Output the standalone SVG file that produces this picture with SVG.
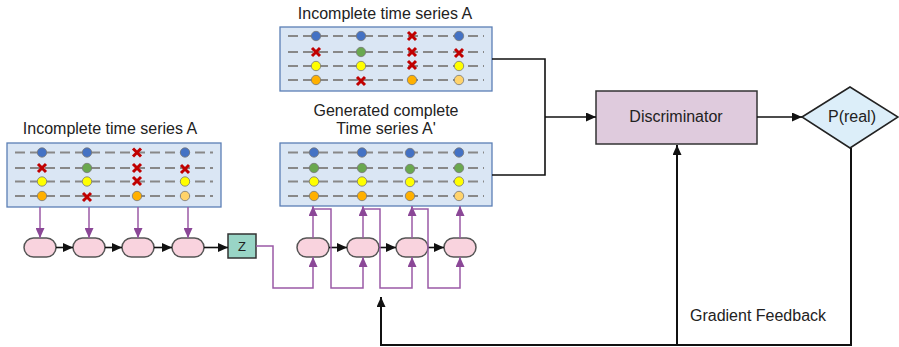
<svg xmlns="http://www.w3.org/2000/svg" xmlns:xlink="http://www.w3.org/1999/xlink" width="899" height="347" viewBox="0 0 899 347">
<style>
  .title { font-family: "Liberation Sans", Arial, sans-serif; font-size: 16px; fill: #222; text-anchor: middle; }
  .label { font-family: "Liberation Sans", Arial, sans-serif; font-size: 16px; fill: #222; text-anchor: middle; dominant-baseline: central; }
  .panel { fill: #dae6f4; stroke: #5b7fb5; stroke-width: 1.3; }
  .dash { stroke: #888; stroke-width: 2; stroke-dasharray: 10 5; }
  .dot { stroke: #777; stroke-width: 0.8; }
  .b { fill: #4472c4; } .g { fill: #6aa84f; } .y { fill: #ffff00; } .o { fill: #ffb000; } .lo { fill: #ffd36b; }
  .xmark { stroke: #c00000; stroke-width: 3; }
  .cell { fill: #f9d3de; stroke: #555; stroke-width: 1.5; }
  .blk { stroke: #111; stroke-width: 1.6; fill: none; }
  .pur { stroke: #9b5aa6; stroke-width: 1.5; fill: none; }
  .fb { stroke: #111; stroke-width: 2; fill: none; }
</style>
<defs>
  <marker id="ab" markerUnits="userSpaceOnUse" markerWidth="11" markerHeight="9" refX="10" refY="4.5" orient="auto">
    <path d="M0,0 L10,4.5 L0,9 z" fill="#111"/>
  </marker>
  <marker id="ap" markerUnits="userSpaceOnUse" markerWidth="11" markerHeight="9" refX="10" refY="4.5" orient="auto">
    <path d="M0,0 L10,4.5 L0,9 z" fill="#8b4797"/>
  </marker>
  <g id="x"><path class="xmark" d="M-4,-4 L4,4 M-4,4 L4,-4"/></g>
</defs>

<!-- Titles -->
<text class="title" x="110" y="134">Incomplete time series A</text>
<text class="title" x="385" y="19">Incomplete time series A</text>
<text class="title" x="386" y="116">Generated complete</text>
<text class="title" x="386" y="134">Time series A'</text>

<!-- Left panel -->
<g id="panel-left">
  <rect class="panel" x="7" y="143" width="214" height="64"/>
  <line class="dash" x1="15" y1="152.5" x2="213" y2="152.5"/>
  <line class="dash" x1="15" y1="168" x2="213" y2="168"/>
  <line class="dash" x1="15" y1="181.5" x2="213" y2="181.5"/>
  <line class="dash" x1="15" y1="196" x2="213" y2="196"/>
  <circle class="dot b" cx="42" cy="152.5" r="4.7"/>
  <circle class="dot b" cx="87" cy="152.5" r="4.7"/>
  <use xlink:href="#x" x="137" y="152.5"/>
  <circle class="dot b" cx="185" cy="152.5" r="4.7"/>
  <use xlink:href="#x" x="42" y="168"/>
  <circle class="dot g" cx="87" cy="168" r="4.7"/>
  <use xlink:href="#x" x="137" y="168"/>
  <use xlink:href="#x" x="185" y="169"/>
  <circle class="dot y" cx="42" cy="181.5" r="4.7"/>
  <circle class="dot y" cx="87" cy="181.5" r="4.7"/>
  <use xlink:href="#x" x="137" y="181"/>
  <circle class="dot y" cx="185" cy="181.5" r="4.7"/>
  <circle class="dot o" cx="42" cy="196" r="4.7"/>
  <use xlink:href="#x" x="87" y="197"/>
  <circle class="dot o" cx="137" cy="196" r="4.7"/>
  <circle class="dot lo" cx="185" cy="196" r="4.7"/>
</g>

<!-- Top panel -->
<g id="panel-top">
  <rect class="panel" x="280" y="27" width="212" height="64"/>
  <line class="dash" x1="288" y1="36" x2="484" y2="36"/>
  <line class="dash" x1="288" y1="52" x2="484" y2="52"/>
  <line class="dash" x1="288" y1="66" x2="484" y2="66"/>
  <line class="dash" x1="288" y1="80" x2="484" y2="80"/>
  <circle class="dot b" cx="316" cy="36" r="4.7"/>
  <circle class="dot b" cx="361" cy="36" r="4.7"/>
  <use xlink:href="#x" x="412" y="36"/>
  <circle class="dot b" cx="459" cy="36" r="4.7"/>
  <use xlink:href="#x" x="316" y="52"/>
  <circle class="dot g" cx="361" cy="52" r="4.7"/>
  <use xlink:href="#x" x="412" y="52"/>
  <use xlink:href="#x" x="459" y="53"/>
  <circle class="dot y" cx="316" cy="66" r="4.7"/>
  <circle class="dot y" cx="361" cy="66" r="4.7"/>
  <use xlink:href="#x" x="412" y="65"/>
  <circle class="dot y" cx="459" cy="66" r="4.7"/>
  <circle class="dot o" cx="316" cy="80" r="4.7"/>
  <use xlink:href="#x" x="361" y="81"/>
  <circle class="dot o" cx="412" cy="80" r="4.7"/>
  <circle class="dot lo" cx="459" cy="80" r="4.7"/>
</g>

<!-- Generated panel -->
<g id="panel-generated">
  <rect class="panel" x="280" y="143" width="212" height="63"/>
  <line class="dash" x1="288" y1="152.5" x2="484" y2="152.5"/>
  <line class="dash" x1="288" y1="168" x2="484" y2="168"/>
  <line class="dash" x1="288" y1="181.5" x2="484" y2="181.5"/>
  <line class="dash" x1="288" y1="196" x2="484" y2="196"/>
  <circle class="dot b" cx="314" cy="152.5" r="4.7"/>
  <circle class="dot b" cx="362" cy="152.5" r="4.7"/>
  <circle class="dot b" cx="410" cy="153" r="4.7"/>
  <circle class="dot b" cx="459" cy="152.5" r="4.7"/>
  <circle class="dot g" cx="314" cy="168" r="4.7"/>
  <circle class="dot g" cx="362" cy="168" r="4.7"/>
  <circle class="dot g" cx="410" cy="169" r="4.7"/>
  <circle class="dot g" cx="459" cy="168" r="4.7"/>
  <circle class="dot y" cx="314" cy="181.5" r="4.7"/>
  <circle class="dot y" cx="362" cy="181.5" r="4.7"/>
  <circle class="dot y" cx="410" cy="182" r="4.7"/>
  <circle class="dot y" cx="459" cy="181.5" r="4.7"/>
  <circle class="dot o" cx="314" cy="196" r="4.7"/>
  <circle class="dot o" cx="362" cy="196" r="4.7"/>
  <circle class="dot o" cx="410" cy="196" r="4.7"/>
  <circle class="dot lo" cx="459" cy="196" r="4.7"/>
</g>

<!-- Encoder cells -->
<g id="enc1"><rect class="cell" x="24" y="238" width="32" height="19" rx="9.5"/></g>
<g id="enc2"><rect class="cell" x="73" y="238" width="32" height="19" rx="9.5"/></g>
<g id="enc3"><rect class="cell" x="122" y="238" width="32" height="19" rx="9.5"/></g>
<g id="enc4"><rect class="cell" x="172" y="238" width="32" height="19" rx="9.5"/></g>
<g id="z"><rect x="228" y="234" width="28" height="24" fill="#99d5c6" stroke="#333" stroke-width="1.5"/><text class="label" x="242" y="246" style="font-size:13px">Z</text></g>

<!-- Decoder cells -->
<g id="dec1"><rect class="cell" x="297" y="238" width="32" height="19" rx="9.5"/></g>
<g id="dec2"><rect class="cell" x="347" y="238" width="32" height="19" rx="9.5"/></g>
<g id="dec3"><rect class="cell" x="396" y="238" width="32" height="19" rx="9.5"/></g>
<g id="dec4"><rect class="cell" x="444" y="238" width="32" height="19" rx="9.5"/></g>

<!-- Discriminator and output -->
<g id="discriminator"><rect x="596" y="91" width="161" height="53" fill="#dfcbdd" stroke="#333" stroke-width="1.5"/><text class="label" x="676" y="116">Discriminator</text></g>
<g id="preal"><path d="M802,117 L850,87 L898,117 L850,148 z" fill="#dceef9" stroke="#222" stroke-width="1.5"/><text class="label" x="852" y="116">P(real)</text></g>

<text class="title" x="758" y="321">Gradient Feedback</text>

<!-- Connectors -->
<g id="connectors">
  <!-- panel to encoder -->
  <line class="pur" x1="40" y1="207" x2="40" y2="238" marker-end="url(#ap)"/>
  <line class="pur" x1="89" y1="207" x2="89" y2="238" marker-end="url(#ap)"/>
  <line class="pur" x1="138" y1="207" x2="138" y2="238" marker-end="url(#ap)"/>
  <line class="pur" x1="188" y1="207" x2="188" y2="238" marker-end="url(#ap)"/>
  <!-- encoder chain -->
  <line class="blk" x1="56" y1="247.5" x2="73" y2="247.5" marker-end="url(#ab)"/>
  <line class="blk" x1="105" y1="247.5" x2="122" y2="247.5" marker-end="url(#ab)"/>
  <line class="blk" x1="154" y1="247.5" x2="172" y2="247.5" marker-end="url(#ab)"/>
  <line class="blk" x1="204" y1="247.5" x2="228" y2="247.5" marker-end="url(#ab)"/>
  <!-- Z to decoder -->
  <path class="pur" d="M256,246 H273 V288 H313 V257" marker-end="url(#ap)"/>
  <!-- decoder chain -->
  <line class="blk" x1="329" y1="247.5" x2="347" y2="247.5" marker-end="url(#ab)"/>
  <line class="blk" x1="379" y1="247.5" x2="396" y2="247.5" marker-end="url(#ab)"/>
  <line class="blk" x1="428" y1="247.5" x2="444" y2="247.5" marker-end="url(#ab)"/>
  <!-- decoder outputs to panel -->
  <line class="pur" x1="313" y1="238" x2="313" y2="206" marker-end="url(#ap)"/>
  <line class="pur" x1="363" y1="238" x2="363" y2="206" marker-end="url(#ap)"/>
  <line class="pur" x1="412" y1="238" x2="412" y2="206" marker-end="url(#ap)"/>
  <line class="pur" x1="460" y1="238" x2="460" y2="206" marker-end="url(#ap)"/>
  <!-- feedback loops -->
  <path class="pur" d="M313,209 H331 V288 H363 V257" marker-end="url(#ap)"/>
  <path class="pur" d="M363,209 H380 V288 H412 V257" marker-end="url(#ap)"/>
  <path class="pur" d="M412,209 H428 V288 H460 V257" marker-end="url(#ap)"/>
  <!-- panels to discriminator -->
  <path class="blk" d="M492,59 H545 V175 H492"/>
  <line class="blk" x1="545" y1="117" x2="596" y2="117" marker-end="url(#ab)"/>
  <line class="blk" x1="757" y1="117" x2="802" y2="117" marker-end="url(#ab)"/>
  <!-- gradient feedback -->
  <path class="fb" d="M851,148 V345 H381 V297" marker-end="url(#ab)"/>
  <path class="fb" d="M677,345 V145" marker-end="url(#ab)"/>
</g>
</svg>
